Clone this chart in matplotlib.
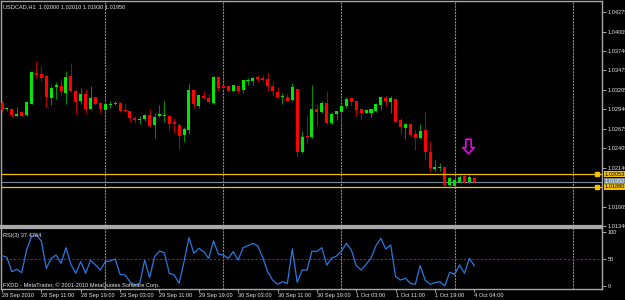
import matplotlib
matplotlib.use("Agg")
import matplotlib.pyplot as plt
from matplotlib.path import Path
from matplotlib.transforms import blended_transform_factory
import numpy as np

# ---------------- data ----------------
symbol_title = "USDCAD,H1  1.02000 1.02010 1.01930 1.01950"
rsi_title = "RSI(3) 37.4764"
footer = "FXDD - MetaTrader, \u00a9 2001-2010 MetaQuotes Software Corp."

opens = [1.03029, 1.02943, 1.02939, 1.02848, 1.02898, 1.02862, 1.03015, 1.03446, 1.03419, 1.03392,
         1.03093, 1.03242, 1.03265, 1.03170, 1.03392, 1.03197, 1.03052, 1.03151, 1.02939, 1.03106,
         1.03025, 1.02930, 1.03002, 1.03011, 1.03029, 1.02934, 1.02912, 1.02825, 1.02790, 1.02803,
         1.02862, 1.02730, 1.02844, 1.02852, 1.02852, 1.02762, 1.02722, 1.02590, 1.02654, 1.03201,
         1.02984, 1.03124, 1.03093, 1.03021, 1.03378, 1.03260, 1.03260, 1.03192, 1.03265, 1.03211,
         1.03324, 1.03324, 1.03378, 1.03369, 1.03351, 1.03265, 1.03174, 1.03116, 1.03116, 1.03066,
         1.03224, 1.02349, 1.02580, 1.02563, 1.02943, 1.02907, 1.03029, 1.02753, 1.02871, 1.02902,
         1.02984, 1.03097, 1.03056, 1.02943, 1.02893, 1.02893, 1.02916, 1.02994, 1.03093, 1.03042,
         1.03079, 1.02794, 1.02689, 1.02743, 1.02599, 1.02545, 1.02654, 1.02349, 1.02124, 1.02132,
         1.02145, 1.01897, 1.01883, 1.01942, 1.02019, 1.01942, 1.02000]
highs = [1.03052, 1.02970, 1.02947, 1.02970, 1.02907, 1.03052, 1.03469, 1.03609, 1.03541, 1.03401,
         1.03265, 1.03310, 1.03360, 1.03473, 1.03582, 1.03211, 1.03229, 1.03224, 1.03265, 1.03116,
         1.03042, 1.03042, 1.03052, 1.03061, 1.03042, 1.03015, 1.02912, 1.02848, 1.02852, 1.02871,
         1.02939, 1.02889, 1.02994, 1.03052, 1.02858, 1.02825, 1.02757, 1.02699, 1.03301, 1.03211,
         1.03143, 1.03197, 1.03157, 1.03401, 1.03396, 1.03269, 1.03269, 1.03273, 1.03279, 1.03347,
         1.03364, 1.03382, 1.03415, 1.03415, 1.03446, 1.03333, 1.03252, 1.03165, 1.03157, 1.03301,
         1.03224, 1.02644, 1.02848, 1.03269, 1.03007, 1.03052, 1.03197, 1.02902, 1.02916, 1.02998,
         1.03106, 1.03106, 1.03061, 1.02947, 1.02947, 1.02947, 1.03025, 1.03120, 1.03120, 1.03120,
         1.03089, 1.02825, 1.02749, 1.02753, 1.02667, 1.02743, 1.02916, 1.02508, 1.02250, 1.02205,
         1.02150, 1.02010, 1.01982, 1.02033, 1.02033, 1.02042, 1.02010]
lows = [1.02907, 1.02916, 1.02839, 1.02839, 1.02844, 1.02852, 1.03007, 1.03369, 1.03333, 1.02974,
        1.02998, 1.03083, 1.03157, 1.03007, 1.03174, 1.02871, 1.03007, 1.02885, 1.02926, 1.02998,
        1.02889, 1.02907, 1.02961, 1.02998, 1.02902, 1.02898, 1.02771, 1.02753, 1.02739, 1.02780,
        1.02699, 1.02553, 1.02839, 1.02762, 1.02658, 1.02621, 1.02396, 1.02499, 1.02608, 1.02953,
        1.02953, 1.03083, 1.03029, 1.03015, 1.03197, 1.03224, 1.03188, 1.03188, 1.03161, 1.03165,
        1.03269, 1.03269, 1.03310, 1.03324, 1.03197, 1.03133, 1.03097, 1.03015, 1.03052, 1.03052,
        1.02300, 1.02336, 1.02472, 1.02553, 1.02712, 1.02893, 1.02735, 1.02743, 1.02790, 1.02757,
        1.02961, 1.02984, 1.02848, 1.02803, 1.02885, 1.02834, 1.02907, 1.02926, 1.02984, 1.02885,
        1.02762, 1.02608, 1.02540, 1.02580, 1.02386, 1.02540, 1.02246, 1.02078, 1.02091, 1.02091,
        1.01866, 1.01887, 1.01874, 1.01928, 1.01928, 1.01920, 1.01930]
closes = [1.02926, 1.02961, 1.02862, 1.02879, 1.02852, 1.03042, 1.03450, 1.03405, 1.03369, 1.03106,
          1.03229, 1.03273, 1.03188, 1.03378, 1.03197, 1.03042, 1.03151, 1.02939, 1.03093, 1.03007,
          1.02943, 1.03011, 1.03015, 1.03029, 1.02912, 1.02912, 1.02825, 1.02798, 1.02811, 1.02858,
          1.02716, 1.02830, 1.02871, 1.02862, 1.02739, 1.02735, 1.02572, 1.02671, 1.03211, 1.03007,
          1.03133, 1.03093, 1.03038, 1.03378, 1.03233, 1.03238, 1.03192, 1.03269, 1.03197, 1.03337,
          1.03347, 1.03369, 1.03351, 1.03337, 1.03260, 1.03188, 1.03106, 1.03129, 1.03061, 1.03242,
          1.02349, 1.02567, 1.02563, 1.02939, 1.02907, 1.03025, 1.02757, 1.02879, 1.02916, 1.02984,
          1.03083, 1.03038, 1.02930, 1.02893, 1.02926, 1.02939, 1.03015, 1.03106, 1.03052, 1.03097,
          1.02767, 1.02703, 1.02735, 1.02590, 1.02553, 1.02644, 1.02349, 1.02132, 1.02145, 1.02145,
          1.01897, 1.02001, 1.01974, 1.02010, 1.01938, 1.02010, 1.01950]
rsi_values = [56.2, 53.1, 26.5, 30.9, 24.7, 66.7, 91.4, 94.4, 83.3, 32.7,
              51.2, 57.4, 42.0, 71.0, 40.1, 23.5, 45.1, 23.5, 48.1, 38.9,
              29.6, 45.1, 46.3, 50.0, 21.6, 20.4, 8.0, 1.9, 4.9, 48.1,
              15.4, 54.3, 64.8, 61.7, 23.5, 20.4, 4.9, 45.1, 89.5, 60.5,
              69.8, 63.6, 51.2, 83.3, 58.6, 57.4, 51.2, 63.6, 48.1, 71.0,
              74.7, 79.0, 74.1, 52.5, 26.5, 11.1, 3.1, 8.0, 4.9, 68.5,
              6.8, 29.6, 29.6, 64.8, 63.6, 71.0, 38.9, 51.2, 55.6, 64.8,
              79.0, 66.7, 37.7, 29.6, 40.1, 51.2, 74.7, 88.3, 68.5, 75.9,
              17.3, 11.1, 14.2, 4.9, 3.1, 37.7, 11.1, 3.1, 6.2, 8.0,
              0.0, 25.3, 21.6, 38.9, 23.5, 51.2, 37.4764]

price_ticks = [1.04275, 1.04005, 1.03740, 1.03475, 1.03205, 1.02940, 1.02675,
               1.02405, 1.02140, 1.01605, 1.01340]
rsi_ticks = [100, 50, 0]
time_label_bars = [0, 8, 16, 24, 32, 40, 48, 56, 64, 72, 80, 88, 96]
time_labels = ["28 Sep 2010", "28 Sep 11:00", "28 Sep 19:00", "29 Sep 03:00",
               "29 Sep 11:00", "29 Sep 19:00", "30 Sep 03:00", "30 Sep 11:00",
               "30 Sep 19:00", "1 Oct 03:00", "1 Oct 11:00", "1 Oct 19:00",
               "4 Oct 04:00"]
day_separator_bars = [21, 45, 69, 92, 116]
level_upper = 1.02053
level_lower = 1.01880
bid_price = 1.01950
rsi_level = 50
arrow_bar = 94.8
arrow_price = 1.02444

# ---------------- style ----------------
FONT = ["Liberation Sans Narrow", "DejaVu Sans Condensed", "Liberation Sans", "DejaVu Sans"]
TXT = "#e8e8e8"
GRID = "#8c8c8c"
FRAME = "#a8a8a8"
BULL = "#00e600"
BEAR = "#ff0000"
BULL_WICK = "#008c00"
BEAR_WICK = "#b00000"
GOLD = "#f2c200"
BIDC = "#778899"
plt.rcParams["lines.scale_dashes"] = False

W, H = 625, 300
fig = plt.figure(figsize=(W / 100, H / 100), dpi=100, facecolor="black")

# choose a font size so that a date label is about as wide as in the reference
renderer = fig.canvas.get_renderer()
probe = fig.text(0, 0, time_labels[0], fontsize=10, family=FONT)
pw = probe.get_window_extent(renderer).width
probe.remove()
FS = 10 * 32.0 / pw
FS = min(FS, 5.4)


def box(l, t, r, b):
    return [l / W, 1 - b / H, (r - l) / W, (b - t) / H]


ax = fig.add_axes(box(1, 1, 602, 226))
axr = fig.add_axes(box(1, 228, 602, 289))

xlim = (-0.203, 121.95)
for a in (ax, axr):
    a.set_facecolor("black")
    a.set_xlim(*xlim)
    for s in a.spines.values():
        s.set_color(FRAME)
        s.set_linewidth(1.0)
ax.spines["bottom"].set_linewidth(1.6)
axr.spines["top"].set_linewidth(1.6)

ax.set_ylim(1.013396, 1.044273)
axr.set_ylim(-5.56, 107.4)

x = np.arange(len(opens))
o = np.array(opens); h = np.array(highs); l = np.array(lows); c = np.array(closes)
up = c >= o

# wicks
ax.vlines(x[up], l[up], h[up], color=BULL_WICK, lw=0.75, zorder=2)
ax.vlines(x[~up], l[~up], h[~up], color=BEAR_WICK, lw=0.75, zorder=2)
# bodies
minh = 0.00014
bottoms = np.minimum(o, c)
heights = np.maximum(np.abs(c - o), minh)
ax.bar(x[up], heights[up], bottom=bottoms[up], width=0.62, color=BULL, lw=0, zorder=3)
ax.bar(x[~up], heights[~up], bottom=bottoms[~up], width=0.62, color=BEAR, lw=0, zorder=3)

# period separators
for a in (ax, axr):
    for b in day_separator_bars:
        a.axvline(b, color=GRID, lw=0.8, ls=(0, (1.5, 0.75)), zorder=1)

# horizontal levels
ax.axhline(level_upper, color=GOLD, lw=0.9, zorder=4)
ax.axhline(level_lower, color=GOLD, lw=0.9, zorder=4)
ax.axhline(bid_price, color=BIDC, lw=0.8, zorder=1)
for lv in (level_upper, level_lower):
    ax.plot([0.992], [lv], marker="s", ms=3.2, color=GOLD, mec=GOLD,
            transform=blended_transform_factory(ax.transAxes, ax.transData),
            clip_on=False, zorder=5)

# arrow object
verts = [(-2.5, 7), (2.5, 7), (2.5, -1), (5.5, -1), (0, -7), (-5.5, -1), (-2.5, -1), (-2.5, 7)]
codes = [Path.MOVETO] + [Path.LINETO] * 6 + [Path.CLOSEPOLY]
arrow_path = Path(verts, codes)
ax.plot([arrow_bar], [arrow_price], marker=arrow_path, ms=10.5, mfc="none",
        mec="#ff00ff", mew=1.1, ls="none", zorder=6)

# price axis
ax.yaxis.tick_right()
ax.set_yticks(price_ticks)
ax.set_yticklabels([f"{p:.5f}" for p in price_ticks])
ax.tick_params(axis="y", colors=FRAME, labelcolor=TXT, length=3, width=0.7,
               pad=1.0, labelsize=FS)
ax.set_xticks([])
for t in ax.get_yticklabels():
    t.set_family(FONT)

tr = blended_transform_factory(ax.transAxes, ax.transData)
for lv in (level_upper, level_lower):
    ax.text(1.004, lv, f"{lv:.5f}", transform=tr, ha="left", va="center",
            fontsize=FS, family=FONT, color="black", clip_on=False, zorder=7,
            bbox=dict(boxstyle="square,pad=0.1", fc=GOLD, ec=GOLD, lw=0))
ax.text(1.004, bid_price, f"{bid_price:.5f}", transform=tr, ha="left", va="center",
        fontsize=FS, family=FONT, color="white", clip_on=False, zorder=6,
        bbox=dict(boxstyle="square,pad=0.1", fc=BIDC, ec=BIDC, lw=0))

# RSI
axr.plot(x, rsi_values, color="#2a78e0", lw=0.9, zorder=3)
axr.axhline(rsi_level, color="#a000b0", lw=0.8, ls=(0, (1.5, 1.5)), zorder=2)
axr.yaxis.tick_right()
axr.set_yticks(rsi_ticks)
axr.set_yticklabels([str(v) for v in rsi_ticks])
axr.tick_params(axis="y", colors=FRAME, labelcolor=TXT, length=3, width=0.7,
                pad=1.0, labelsize=FS)
axr.set_xticks(time_label_bars)
axr.set_xticklabels(time_labels, ha="left")
axr.tick_params(axis="x", colors=FRAME, labelcolor=TXT, length=2, width=0.7,
                pad=1.0, labelsize=FS)
for t in axr.get_yticklabels() + axr.get_xticklabels():
    t.set_family(FONT)

# header texts
fig.text(3 / W, 1 - 6.5 / H, symbol_title, color=TXT, fontsize=FS, family=FONT,
         ha="left", va="center")
fig.text(3 / W, 1 - 235 / H, rsi_title, color=TXT, fontsize=FS, family=FONT,
         ha="left", va="center")
fig.text(3 / W, 1 - 285 / H, footer, color=TXT, fontsize=FS, family=FONT,
         ha="left", va="center")

fig.savefig("out.png", dpi=100, facecolor="black")
